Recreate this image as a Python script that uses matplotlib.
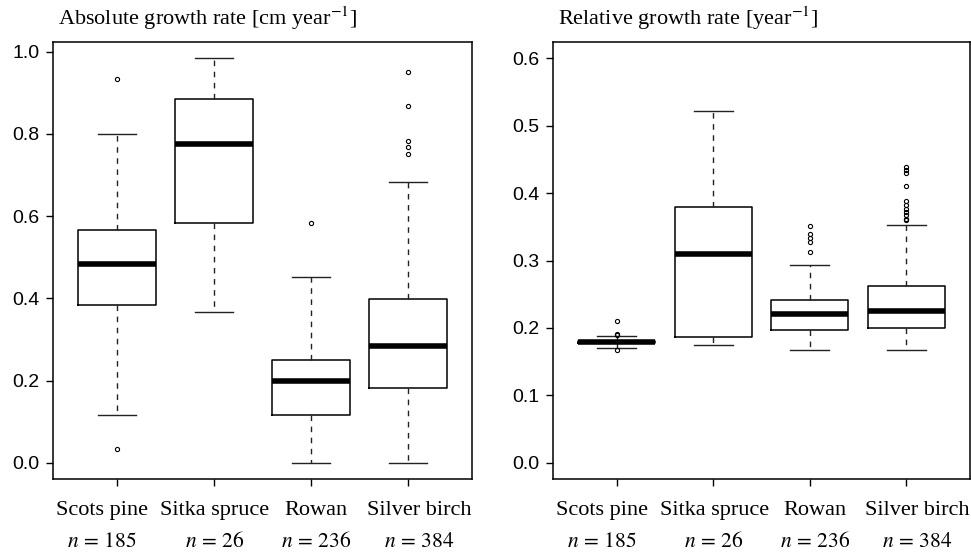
import numpy as np
import matplotlib.pyplot as plt

species = ['Scots pine', 'Sitka spruce', 'Rowan', 'Silver birch']
n_trees = [185, 26, 236, 384]

# absolute growth rate [cm / year], box summaries
abs_whislo = [0.116, 0.366, 0.0, 0.0]
abs_q1 = [0.383, 0.584, 0.116, 0.183]
abs_med = [0.484, 0.775, 0.200, 0.283]
abs_q3 = [0.566, 0.884, 0.249, 0.399]
abs_whishi = [0.800, 0.984, 0.451, 0.683]
abs_fliers = [[0.934, 0.033], [], [0.583], [0.951, 0.867, 0.783, 0.767, 0.750]]

# relative growth rate [1 / year]
rel_whislo = [0.170, 0.174, 0.167, 0.167]
rel_q1 = [0.177, 0.187, 0.1965, 0.200]
rel_med = [0.179, 0.310, 0.220, 0.2246]
rel_q3 = [0.181, 0.380, 0.2413, 0.2625]
rel_whishi = [0.188, 0.521, 0.293, 0.353]
rel_fliers = [[0.210, 0.191, 0.189, 0.168], [],
              [0.351, 0.340, 0.334, 0.328, 0.313],
              [0.439, 0.4345, 0.430, 0.411, 0.388, 0.382, 0.377, 0.372, 0.367, 0.362, 0.3595]]

plt.rcParams['mathtext.fontset'] = 'stix'
sans = 'Liberation Sans'
serif = 'Liberation Serif'

# labels under the boxes are nudged apart so they don't collide (pixels)
label_shift = [-15, 1, 5, 11]


def make_stats(lo, q1, med, q3, hi, fliers):
    stats = []
    for i in range(len(med)):
        stats.append({'whislo': lo[i], 'q1': q1[i], 'med': med[i], 'q3': q3[i],
                      'whishi': hi[i], 'fliers': fliers[i]})
    return stats


def draw_panel(ax, stats, title, ylim, yticks):
    ax.bxp(stats, positions=range(1, len(stats) + 1), widths=0.8,
           showfliers=True,
           boxprops=dict(color='black', linewidth=1.1),
           medianprops=dict(color='black', linewidth=4.0, solid_capstyle='butt'),
           whiskerprops=dict(color='#222222', linewidth=1.0, linestyle=(0, (4, 4))),
           capprops=dict(color='#222222', linewidth=1.0),
           capwidths=0.4,
           flierprops=dict(marker='o', markersize=3, markerfacecolor='none',
                           markeredgecolor='black', markeredgewidth=0.8))
    ax.set_xlim(0.34, 4.66)
    ax.set_ylim(*ylim)
    ax.set_yticks(yticks)
    ax.set_yticklabels(['%.1f' % t for t in yticks], fontfamily=sans, fontsize=14)
    ax.set_xticks(range(1, len(species) + 1))
    ax.set_xticklabels([])
    ax.tick_params(direction='out', length=5, width=1.0, pad=5, color='black')
    for s in ax.spines.values():
        s.set_linewidth(1.1)
    tr = ax.get_xaxis_transform()
    for i, name in enumerate(species):
        ax.annotate(name, xy=(i + 1, -0.082), xycoords=tr,
                    xytext=(label_shift[i], 0), textcoords='offset pixels',
                    ha='center', va='baseline', fontfamily=serif, fontsize=16)
        ax.annotate(r'$n\,=\,%d$' % n_trees[i], xy=(i + 1, -0.156), xycoords=tr,
                    xytext=(label_shift[i], 0), textcoords='offset pixels',
                    ha='center', va='baseline', fontsize=15.5)
    ax.text(0.012, 1.039, title, transform=ax.transAxes, ha='left', va='baseline',
            fontfamily=serif, fontsize=16)


fig = plt.figure(figsize=(9.71, 5.53), dpi=100)
ax1 = fig.add_axes([0.0546, 0.1338, 0.4315, 0.7902])
ax2 = fig.add_axes([0.5695, 0.1338, 0.4295, 0.7902])

draw_panel(ax1, make_stats(abs_whislo, abs_q1, abs_med, abs_q3, abs_whishi, abs_fliers),
           r'Absolute growth rate [cm year$^{-1}$]', (-0.0394, 1.0234),
           [0.0, 0.2, 0.4, 0.6, 0.8, 1.0])
draw_panel(ax2, make_stats(rel_whislo, rel_q1, rel_med, rel_q3, rel_whishi, rel_fliers),
           r'Relative growth rate [year$^{-1}$]', (-0.024, 0.624),
           [0.0, 0.1, 0.2, 0.3, 0.4, 0.5, 0.6])

fig.savefig('out.png', dpi=100)
